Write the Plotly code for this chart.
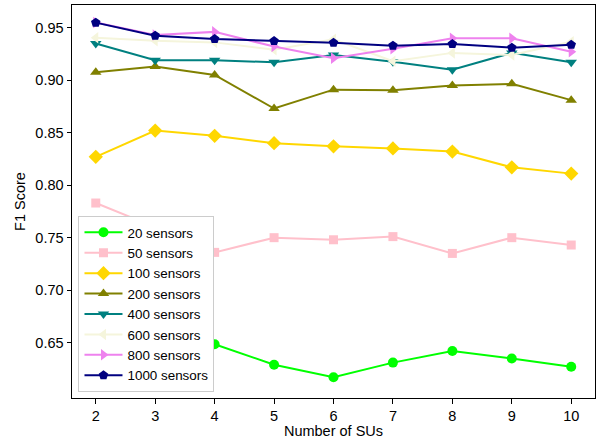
import plotly.graph_objects as go

sus = [2, 3, 4, 5, 6, 7, 8, 9, 10]
names = ["20 sensors", "50 sensors", "100 sensors", "200 sensors",
         "400 sensors", "600 sensors", "800 sensors", "1000 sensors"]

f1_20 = [0.640, 0.655, 0.6485, 0.629, 0.617, 0.631, 0.642, 0.635, 0.627]
f1_50 = [0.783, 0.760, 0.736, 0.750, 0.748, 0.751, 0.735, 0.750, 0.743]
f1_100 = [0.827, 0.852, 0.847, 0.840, 0.837, 0.835, 0.832, 0.817, 0.811]
f1_200 = [0.9075, 0.913, 0.905, 0.873, 0.891, 0.8905, 0.895, 0.8965, 0.881]
f1_400 = [0.935, 0.919, 0.919, 0.917, 0.924, 0.9175, 0.910, 0.926, 0.917]
f1_600 = [0.9405, 0.9375, 0.936, 0.929, 0.939, 0.918, 0.926, 0.924, 0.9365]
f1_800 = [0.955, 0.943, 0.946, 0.932, 0.921, 0.930, 0.940, 0.940, 0.927]
f1_1000 = [0.9548, 0.9424, 0.9392, 0.9373, 0.9357, 0.9329, 0.9344, 0.931, 0.9338]

series = [f1_20, f1_50, f1_100, f1_200, f1_400, f1_600, f1_800, f1_1000]
colors = ["#00ff00", "#ffc0cb", "#ffd700", "#808000",
          "#008080", "#f5f5dc", "#ee82ee", "#000080"]
symbols = ["circle", "square", "diamond", "triangle-up",
           "triangle-down", "triangle-left", "triangle-right", "pentagon"]
sizes = [10, 9, 11, 10, 10, 10, 10, 10]

fig = go.Figure()
for name, vals, c, s, sz in zip(names, series, colors, symbols, sizes):
    fig.add_trace(go.Scatter(
        x=sus, y=vals, name=name, mode="lines+markers",
        line=dict(color=c, width=2),
        marker=dict(symbol=s, color=c, size=sz, line=dict(width=0)),
    ))

font = "Liberation Sans, Arial, sans-serif"
fs = 14.5
fig.update_layout(
    width=597, height=439,
    margin=dict(l=71.5, r=2, t=5, b=41),
    plot_bgcolor="white", paper_bgcolor="white",
    font=dict(family=font, size=fs, color="black"),
    showlegend=True,
    legend=dict(
        x=0.0124, y=0.015, xanchor="left", yanchor="bottom",
        bgcolor="white", bordercolor="#cccccc", borderwidth=1,
        font=dict(size=13.4, family=font),
        tracegroupgap=0, itemwidth=38,
    ),
)
fig.update_xaxes(
    range=[1.6, 10.4], tickmode="array", tickvals=sus,
    showgrid=False, zeroline=False,
    showline=True, linecolor="black", linewidth=1, mirror=True,
    ticks="outside", ticklen=4.5, tickcolor="black",
    title=dict(text="Number of SUs", font=dict(size=fs), standoff=4),
)
fig.update_yaxes(
    range=[0.5973, 0.9716], tickmode="array",
    tickvals=[0.65, 0.70, 0.75, 0.80, 0.85, 0.90, 0.95],
    ticktext=["0.65", "0.70", "0.75", "0.80", "0.85", "0.90", "0.95"],
    showgrid=False, zeroline=False,
    showline=True, linecolor="black", linewidth=1, mirror=True,
    ticks="outside", ticklen=4.5, tickcolor="black",
    title=dict(text="F1 Score", font=dict(size=fs), standoff=6),
)

fig.write_html("out.html",
               config={"displayModeBar": False},
               post_script="document.body.style.margin='0';document.body.style.padding='0';")
